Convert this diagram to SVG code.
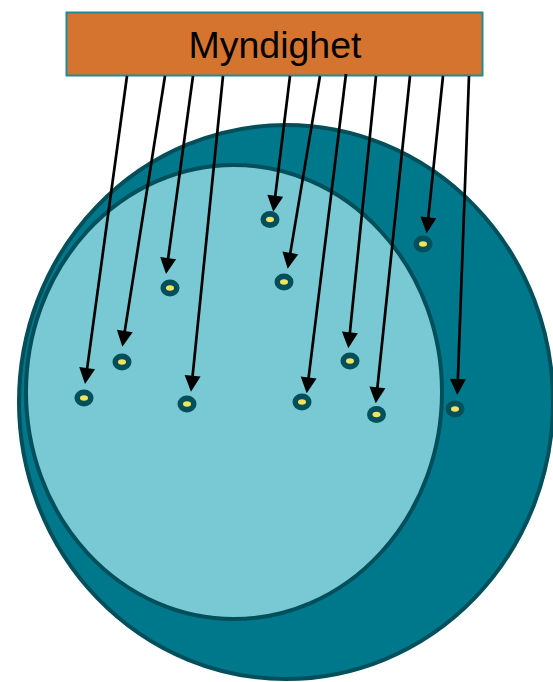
<svg xmlns="http://www.w3.org/2000/svg" width="553" height="682" viewBox="0 0 553 682">
<style>
.outer{fill:#00788B;stroke:#004F5B;stroke-width:4}
.inner{fill:#78C9D3;stroke:#004F5B;stroke-width:4}
.box{fill:#D5742E;stroke:#1E8A9A;stroke-width:2}
.lbl{font-family:"Liberation Sans",Arial,sans-serif;font-size:37.5px;fill:#000}
.arr{stroke:#000;stroke-width:2.7;fill:none;marker-end:url(#ah)}
.dot{fill:#004F5B}
.core{fill:#F2E35A}
</style>
<defs>
<marker id="ah" markerUnits="userSpaceOnUse" markerWidth="17" markerHeight="17" refX="2" refY="8" orient="auto" overflow="visible">
<path d="M0,0 L16,8 L0,16 z" fill="#000"/>
</marker>
<g id="d"><ellipse class="dot" rx="9.5" ry="8.4"/><ellipse class="core" rx="4" ry="2.8"/></g>
</defs>
<g id="outer-set"><ellipse class="outer" cx="286" cy="402" rx="267" ry="277"/></g>
<g id="inner-set"><ellipse class="inner" cx="234" cy="392" rx="208" ry="227"/></g>
<g id="myndighet">
<rect class="box" x="66.5" y="12.5" width="416" height="63"/>
<text class="lbl" x="275" y="58" text-anchor="middle">Myndighet</text>
</g>
<g id="dots">
<use href="#d" x="84" y="398"/>
<use href="#d" x="122" y="362"/>
<use href="#d" x="170" y="288"/>
<use href="#d" x="187" y="404"/>
<use href="#d" x="270" y="219.5"/>
<use href="#d" x="284" y="282"/>
<use href="#d" x="302" y="402"/>
<use href="#d" x="350" y="361"/>
<use href="#d" x="376.5" y="414.5"/>
<use href="#d" x="423" y="244"/>
<use href="#d" x="455" y="409"/>
</g>
<g id="connectors">
<line class="arr" x1="127" y1="76" x2="86.9" y2="370.1"/>
<line class="arr" x1="165" y1="76" x2="124.5" y2="332.9"/>
<line class="arr" x1="193" y1="76" x2="167.9" y2="260.1"/>
<line class="arr" x1="223" y1="76" x2="192.4" y2="377.8"/>
<line class="arr" x1="290" y1="76" x2="275" y2="197.8"/>
<line class="arr" x1="320" y1="76" x2="290" y2="254.9"/>
<line class="arr" x1="346" y1="74" x2="308.4" y2="379.4"/>
<line class="arr" x1="376" y1="76" x2="349.7" y2="334.4"/>
<line class="arr" x1="410" y1="76" x2="377.2" y2="389.4"/>
<line class="arr" x1="443" y1="76" x2="428.1" y2="219.4"/>
<line class="arr" x1="469" y1="76" x2="457.8" y2="381"/>
</g>
</svg>
